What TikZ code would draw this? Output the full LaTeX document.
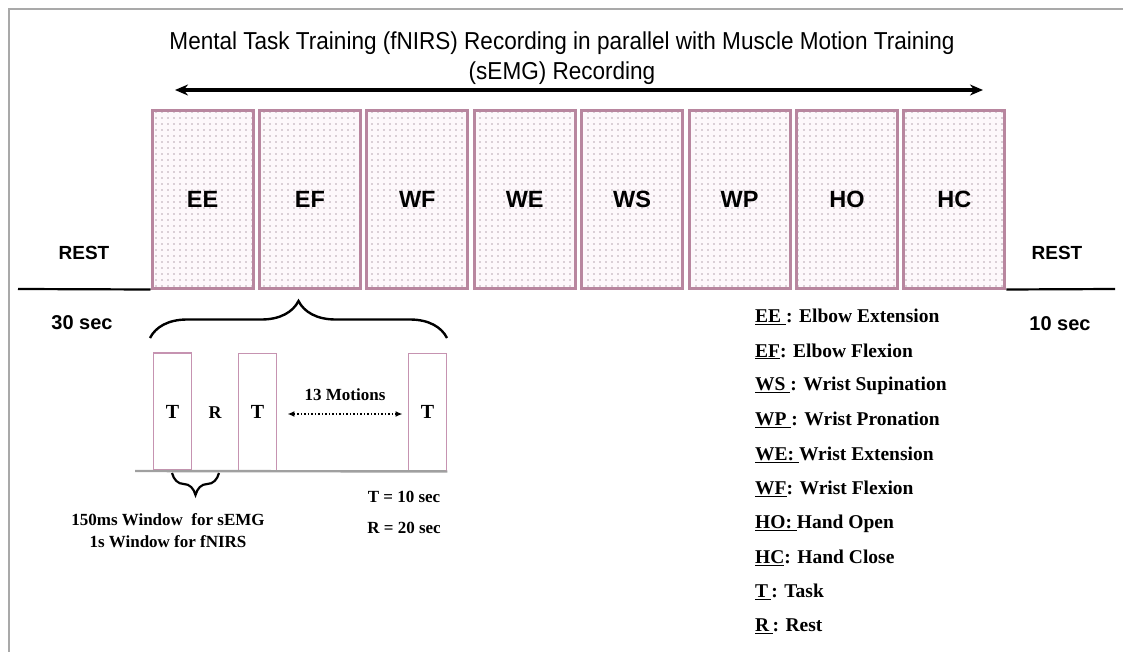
\documentclass[tikz,border=0pt]{standalone}
\usepackage{fontspec}
\setmainfont{Liberation Serif}
\setsansfont{Liberation Sans}
\newfontfamily\titlefont[FakeStretch=0.92]{Liberation Sans}
\usepackage{tikz}
\usetikzlibrary{arrows.meta,positioning,calc,decorations.pathreplacing,patterns.meta}
\definecolor{boxpink}{HTML}{B8869F}
\definecolor{taskpink}{HTML}{C693B1}
\definecolor{dotgrey}{HTML}{B8A6B1}
\definecolor{paperpink}{HTML}{FDF8FB}
\definecolor{framegrey}{HTML}{A9A9A9}
\definecolor{basegrey}{HTML}{A0A0A0}
\tikzdeclarepattern{name=pinkdots,type=uncolored,
  bounding box={(-3pt,-3pt) and (3pt,3pt)},tile size={(6pt,6pt)},
  code={\fill (0pt,0pt) circle (0.8pt);}}

\begin{document}
\begin{tikzpicture}[x=1pt,y=-1pt,
    movebox/.style={draw=boxpink,line width=3pt,preaction={fill=paperpink},pattern=pinkdots,pattern color=dotgrey,
      minimum width=101pt,minimum height=177pt,inner sep=0pt,font=\sffamily\bfseries\fontsize{23.5}{26}\selectfont},
    taskbox/.style={draw=taskpink,line width=1.9pt,minimum width=38pt,minimum height=117pt,inner sep=0pt,
      font=\bfseries\fontsize{20}{22}\selectfont},
    restlbl/.style={font=\sffamily\bfseries\fontsize{19}{22}\selectfont},
    smalllbl/.style={font=\bfseries\fontsize{17}{20}\selectfont},
    leglbl/.style={anchor=west,inner sep=0pt,font=\bfseries\fontsize{19.5}{22}\selectfont}]
  \useasboundingbox (0,0) rectangle (1123,652);
  \draw[framegrey,line width=2pt] (9,652) -- (9,9) -- (1123,9);
  % title and recording arrow
  \node[font=\titlefont\fontsize{24.5}{30}\selectfont,align=center] (title) at (562,58)
    {Mental Task Training (fNIRS) Recording in parallel with Muscle Motion Training\\(sEMG) Recording};
  \coordinate (arrL) at (175,90);
  \coordinate (arrR) at (983,90);
  \draw[{Stealth[length=13pt,width=11pt]}-{Stealth[length=13pt,width=11pt]},line width=3.6pt] (arrL) -- (arrR);
  % the eight motions
  \foreach \nm/\lbl [count=\i from 0] in {ee/EE,ef/EF,wf/WF,we/WE,ws/WS,wp/WP,ho/HO,hc/HC}
    \node[movebox] (\nm) at ({202.5+107.4*\i},199.5) {\lbl};
  \coordinate (baseL) at (18,289);
  \coordinate (baseR) at (1115,289);
  \draw[line width=2.2pt] (baseL) -- (ee.south west);
  \draw[line width=2.2pt] (hc.south east) -- (baseR);
  \node[restlbl] (restL) at (84,253) {REST};
  \node[restlbl] (restR) at (1057,253) {REST};
  \node[restlbl,font=\sffamily\bfseries\fontsize{20}{22}\selectfont] (secL) at (82,323) {30 sec};
  \node[restlbl,font=\sffamily\bfseries\fontsize{20}{22}\selectfont] (secR) at (1060,324) {10 sec};
  % one motion in detail
  \coordinate (braceL) at (150,338);
  \coordinate (braceR) at (447,338);
  \draw[line width=2.4pt,decorate,decoration={brace,amplitude=37pt}] (braceL) -- (braceR);
  \node[taskbox] (t1) at (172.5,411.5) {T};
  \node[taskbox] (t2) at (257.5,412) {T};
  \node[taskbox] (t3) at (427.5,412) {T};
  \node[font=\bfseries\fontsize{18}{20}\selectfont] (r1) at (215,413) {R};
  \coordinate (axisL) at (135,471);
  \draw[basegrey,line width=2.4pt] (axisL) -- (t3.south east);
  \node[smalllbl] (motions) at (345,395) {13 Motions};
  \draw[{Latex[length=7pt,width=6pt]}-{Latex[length=7pt,width=6pt]},line width=1.5pt,dotted]
    ([xshift=10pt,yshift=-2pt]t2.east) -- ([xshift=-5pt,yshift=-2pt]t3.west);
  \coordinate (winL) at (172,473);
  \coordinate (winR) at (219,473);
  \draw[line width=2.2pt,decorate,decoration={brace,mirror,amplitude=22pt}] (winL) -- (winR);
  \node[smalllbl,align=center,font=\bfseries\fontsize{17}{22}\selectfont] (window) at (168,531)
    {150ms Window\ \ for sEMG\\1s Window for fNIRS};
  \node[smalllbl] (tdur) at (404,497) {T = 10 sec};
  \node[smalllbl] (rdur) at (404,528) {R = 20 sec};
  % legend
  \foreach \txt [count=\i from 0] in {{\underline{EE\ }: Elbow Extension},{\underline{EF}: Elbow Flexion},
      {\underline{WS\ }: Wrist Supination},{\underline{WP\ }: Wrist Pronation},{\underline{WE:\ }Wrist Extension},
      {\underline{WF}: Wrist Flexion},{\underline{HO:\ }Hand Open},{\underline{HC}: Hand Close},
      {\underline{T\,}: Task},{\underline{R\,}: Rest}}
    \node[leglbl] (leg\i) at (755,{317+34.4*\i}) {\txt};
\end{tikzpicture}
\end{document}
